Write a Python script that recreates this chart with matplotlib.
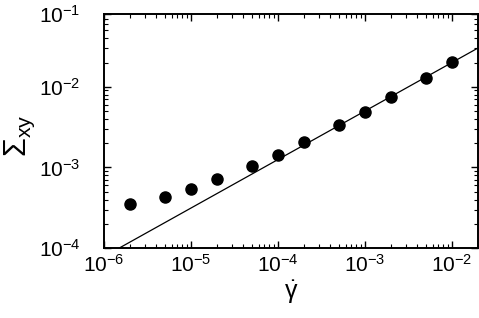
import numpy as np
from matplotlib import pyplot as plt

plt.rcParams['font.family'] = ['Liberation Sans', 'DejaVu Sans']
plt.rcParams['mathtext.fontset'] = 'custom'
plt.rcParams['mathtext.rm'] = 'Liberation Sans'
plt.rcParams['mathtext.it'] = 'Liberation Sans'
plt.rcParams['mathtext.bf'] = 'Liberation Sans:bold'

# shear rate and stress data
gamma_dot = [2e-6, 5e-6, 1e-5, 2e-5, 5e-5, 1e-4, 2e-4, 5e-4, 1e-3, 2e-3, 5e-3, 1e-2]
sigma_xy = [3.5e-4, 4.3e-4, 5.4e-4, 7.2e-4, 1.05e-3, 1.44e-3, 2.07e-3, 3.34e-3,
            4.9e-3, 7.4e-3, 1.28e-2, 2.05e-2]

# power-law guide line (end points)
fit_x = [1.5e-6, 2e-2]
fit_y = [1e-4, 3.03e-2]

ytick_vals = [1e-4, 1e-3, 1e-2, 8e-2]
ytick_labels = ['$10^{-4}$', '$10^{-3}$', '$10^{-2}$', '$10^{-1}$']

fig = plt.figure(figsize=(4.79, 3.18), dpi=100)
ax = fig.add_axes([0.217, 0.22, 0.781, 0.736])

ax.plot(fit_x, fit_y, '-', color='black', linewidth=0.9)
ax.plot(gamma_dot, sigma_xy, 'o', color='black', markersize=8)

ax.set_xscale('log')
ax.set_yscale('log')
ax.set_xlim(1e-6, 2e-2)
ax.set_ylim(1e-4, 8e-2)
ax.set_yticks(ytick_vals)
ax.set_yticklabels(ytick_labels)

ax.tick_params(which='both', direction='in', top=True, right=True, labelsize=15)
ax.tick_params(axis='x', pad=4)
ax.tick_params(axis='y', pad=17)
ax.tick_params(which='major', length=5, width=1)
ax.tick_params(which='minor', length=3, width=0.8)
for s in ax.spines.values():
    s.set_linewidth(1.4)

ax.set_xlabel(r'$\dot{\gamma}$', fontsize=18, labelpad=2)
ax.set_ylabel(r'$\Sigma_{\rm xy}$', fontsize=22)
ax.yaxis.set_label_coords(-0.18, 0.48)

fig.savefig('out.png', dpi=100)
